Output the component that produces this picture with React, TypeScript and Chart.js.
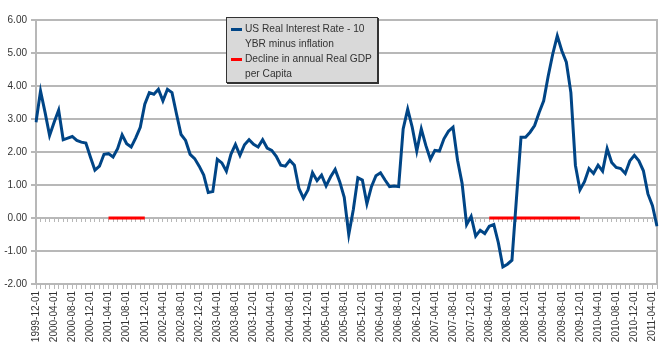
import React, { useEffect, useRef } from "react";
import { Chart, registerables } from "chart.js";

Chart.register(...registerables);

// Monthly categories from 1999-12 to 2011-05
const startYear = 1999;
const startMonth = 12;
const monthCount = 138;
const months: string[] = [];
for (let k = 0; k < monthCount; k++) {
  const m0 = startMonth - 1 + k;
  const y = startYear + Math.floor(m0 / 12);
  const m = (m0 % 12) + 1;
  months.push(`${y}-${String(m).padStart(2, "0")}-01`);
}

const realRate: number[] = [
  2.9, 3.85, 3.2, 2.5, 2.9, 3.27, 2.37, 2.42, 2.47, 2.35, 2.3, 2.27,
  1.85, 1.45, 1.57, 1.93, 1.95, 1.85, 2.1, 2.52, 2.25, 2.15, 2.43, 2.75,
  3.45, 3.8, 3.75, 3.9, 3.55, 3.9, 3.8, 3.15, 2.53, 2.35, 1.93, 1.8,
  1.57, 1.3, 0.77, 0.8, 1.78, 1.67, 1.42, 1.93, 2.23, 1.9, 2.22, 2.37,
  2.23, 2.15, 2.37, 2.12, 2.05, 1.87, 1.6, 1.57, 1.75, 1.6, 0.9, 0.6,
  0.85, 1.37, 1.13, 1.3, 0.97, 1.25, 1.47, 1.1, 0.63, -0.5, 0.25, 1.22,
  1.15, 0.43, 0.95, 1.28, 1.37, 1.15, 0.95, 0.97, 0.95, 2.7, 3.3, 2.75,
  2.03, 2.7, 2.2, 1.78, 2.05, 2.03, 2.4, 2.63, 2.75, 1.75, 1.05, -0.2,
  0.05, -0.55, -0.37, -0.47, -0.25, -0.2, -0.75, -1.48, -1.4, -1.28, 0.6, 2.45,
  2.45, 2.6, 2.8, 3.2, 3.55, 4.3, 4.97, 5.52, 5.07, 4.72, 3.8, 1.6,
  0.85, 1.1, 1.5, 1.35, 1.6, 1.42, 2.1, 1.68, 1.53, 1.5, 1.35, 1.73,
  1.9, 1.73, 1.43, 0.73, 0.37, -0.25,
];

// Periods of decline in annual real GDP per capita (drawn at 0)
const declineStarts: string[] = ["2001-04-01", "2008-04-01"];
const declineEnds: string[] = ["2001-12-01", "2009-12-01"];

const declineSeries: (number | null)[] = months.map((m) => {
  for (let p = 0; p < declineStarts.length; p++) {
    if (m >= declineStarts[p] && m <= declineEnds[p]) return 0;
  }
  return null;
});

const yTicksMin = -2;
const yTicksMax = 6;

const FONT = "'Liberation Sans', Arial, sans-serif";
const GRID = "#b8b8b8";

export default function App() {
  const ref = useRef<HTMLCanvasElement | null>(null);

  useEffect(() => {
    if (!ref.current) return;
    const chart = new Chart(ref.current, {
      type: "line",
      data: {
        labels: months,
        datasets: [
          {
            label: "US Real Interest Rate - 10 YBR minus inflation",
            data: realRate,
            borderColor: "#004586",
            borderWidth: 3,
            pointRadius: 0,
            tension: 0,
            fill: false,
          },
          {
            label: "Decline in annual Real GDP per Capita",
            data: declineSeries,
            borderColor: "#ff0000",
            borderWidth: 3,
            pointRadius: 0,
            tension: 0,
            fill: false,
            spanGaps: false,
          },
        ],
      },
      options: {
        animation: false,
        responsive: false,
        devicePixelRatio: 1,
        layout: { padding: { top: 20, right: 6, left: 0, bottom: 0 } },
        plugins: {
          legend: { display: false },
          tooltip: { enabled: false },
        },
        scales: {
          x: {
            type: "category",
            offset: false,
            afterFit: (s: any) => {
              s.height = 70;
              s.paddingLeft = 0;
              s.paddingRight = 0;
            },
            grid: {
              drawOnChartArea: false,
              drawTicks: true,
              tickLength: 5,
              color: GRID,
              lineWidth: 1,
            },
            border: { color: GRID, width: 2 },
            ticks: {
              autoSkip: false,
              maxRotation: 90,
              minRotation: 90,
              padding: 2,
              color: "#333",
              font: { family: FONT, size: 10 },
              callback: (_v: any, i: number) => (i % 4 === 0 ? months[i] : ""),
            },
          },
          x0: {
            type: "category",
            position: { y: 0 } as any,
            offset: false,
            afterFit: (s: any) => {
              s.paddingLeft = 0;
              s.paddingRight = 0;
            },
            grid: {
              drawOnChartArea: false,
              drawTicks: true,
              tickLength: 4,
              color: GRID,
              lineWidth: 1,
            },
            border: { display: false },
            ticks: { display: false, autoSkip: false },
          },
          y: {
            min: yTicksMin,
            max: yTicksMax,
            afterFit: (s: any) => {
              s.width = 36;
            },
            grid: { color: GRID, lineWidth: 2, tickLength: 5 },
            border: { color: GRID, width: 2 },
            ticks: {
              stepSize: 1,
              padding: 4,
              color: "#333",
              font: { family: FONT, size: 10 },
              callback: (v: any) => Number(v).toFixed(2),
            },
          },
          yr: {
            position: "right",
            min: yTicksMin,
            max: yTicksMax,
            afterFit: (s: any) => {
              s.width = 0;
              s.paddingTop = 0;
              s.paddingBottom = 0;
            },
            grid: { drawOnChartArea: false, drawTicks: false },
            border: { color: GRID, width: 2 },
            ticks: { display: false },
          },
        },
      },
    });
    return () => chart.destroy();
  }, []);

  const swatch = (color: string): React.CSSProperties => ({
    position: "absolute",
    left: 4,
    top: 6,
    width: 11,
    height: 3,
    background: color,
  });

  const entry: React.CSSProperties = {
    position: "relative",
    paddingLeft: 18,
    lineHeight: "14.5px",
    whiteSpace: "nowrap",
  };

  return (
    <div style={{ position: "absolute", left: 0, top: 0, width: 663, height: 354 }}>
      <canvas ref={ref} width={663} height={354} style={{ display: "block" }} />
      <div
        style={{
          position: "absolute",
          left: 226,
          top: 17,
          width: 152,
          height: 66,
          background: "#d9d9d9",
          border: "1px solid #333",
          boxShadow: "1px 1px 0 #333",
          fontFamily: FONT,
          fontSize: 10.2,
          color: "#333",
          boxSizing: "border-box",
          paddingTop: 4,
          overflow: "hidden",
        }}
      >
        <div style={entry}>
          <span style={swatch("#004586")} />
          US Real Interest Rate - 10
          <br />
          YBR minus inflation
        </div>
        <div style={{ ...entry, marginTop: 1 }}>
          <span style={swatch("#ff0000")} />
          Decline in annual Real GDP
          <br />
          per Capita
        </div>
      </div>
    </div>
  );
}
